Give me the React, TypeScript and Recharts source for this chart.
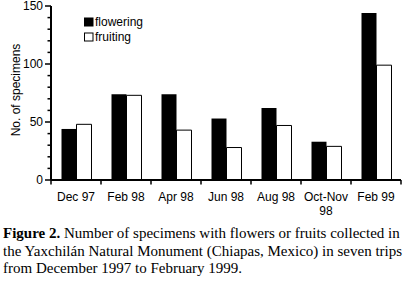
import React from "react";
import { BarChart, Bar, XAxis, YAxis, Legend } from "recharts";

const categories = ["Dec 97", "Feb 98", "Apr 98", "Jun 98", "Aug 98", "Oct-Nov\n98", "Feb 99"];
const flowering = [44, 74, 74, 53, 62, 33, 144];
const fruiting = [48, 73, 43, 28, 47, 29, 99];
const yTicks = [0, 10, 20, 30, 40, 50, 60, 70, 80, 90, 100, 110, 120, 130, 140, 150];
const yLabelTicks = [0, 50, 100, 150];

const seriesNames = ["flowering", "fruiting"];

const data = categories.map((c, i) => ({ cat: c, flowering: flowering[i], fruiting: fruiting[i] }));

const SANS = "Arial, 'Liberation Sans', sans-serif";

const YTick = (props: any) => {
  const { x, y, payload } = props;
  const major = yLabelTicks.includes(payload.value);
  return (
    <g>
      <line x1={x - (major ? 6 : 3.5)} x2={x} y1={y} y2={y} stroke="#000" strokeWidth={1.5} />
      {major && (
        <text x={x - 8} y={y} dy={4.2} textAnchor="end" fontFamily={SANS} fontSize={12} fill="#000">
          {payload.value}
        </text>
      )}
    </g>
  );
};

const XTick = (props: any) => {
  const { x, y, payload, index, visibleTicksCount } = props;
  const off = payload.offset ?? 25;
  const lines = String(payload.value).split("\n");
  const isLast = index === (visibleTicksCount ?? categories.length) - 1;
  return (
    <g>
      <line x1={x - off} x2={x - off} y1={y} y2={y + 4.5} stroke="#000" strokeWidth={1.5} />
      {isLast && <line x1={x + off} x2={x + off} y1={y} y2={y + 4.5} stroke="#000" strokeWidth={1.5} />}
      <text x={x} y={y + 21} textAnchor="middle" fontFamily={SANS} fontSize={12} fill="#000">
        {lines.map((l, i) => (
          <tspan key={i} x={x} dy={i === 0 ? 0 : 14}>
            {l}
          </tspan>
        ))}
      </text>
    </g>
  );
};

const LegendContent = () => (
  <div style={{ fontFamily: SANS, fontSize: 12, lineHeight: "14.6px", color: "#000" }}>
    {seriesNames.map((n, i) => (
      <div key={n} style={{ display: "flex", alignItems: "center", whiteSpace: "nowrap" }}>
        <svg width={10} height={10} style={{ marginRight: 1 }}>
          <rect x={0.5} y={1} width={8.5} height={8} fill={i === 0 ? "#000" : "#fff"} stroke="#000" strokeWidth={1} />
        </svg>
        <span>{n}</span>
      </div>
    ))}
  </div>
);

export default function App() {
  return (
    <div style={{ position: "absolute", left: 0, top: 0, width: 406, height: 283, background: "#fff", overflow: "hidden" }}>
      <BarChart
        width={406}
        height={225}
        data={data}
        margin={{ top: 6, right: 5, bottom: 0, left: 0 }}
        barCategoryGap="21%"
        barGap={0}
      >
        <XAxis
          dataKey="cat"
          interval={0}
          tickLine={false}
          tickSize={0}
          tickMargin={0}
          height={45}
          axisLine={{ stroke: "#000", strokeWidth: 2 }}
          tick={<XTick />}
        />
        <YAxis
          type="number"
          domain={[0, 150]}
          ticks={yTicks}
          interval={0}
          width={51}
          tickLine={false}
          tickSize={0}
          tickMargin={0}
          axisLine={{ stroke: "#000", strokeWidth: 2 }}
          tick={<YTick />}
        />
        <Legend
          layout="vertical"
          align="center"
          verticalAlign="middle"
          wrapperStyle={{ left: 84, top: 15, width: "auto", height: "auto" }}
          content={<LegendContent />}
        />
        <Bar dataKey="flowering" fill="#000" isAnimationActive={false} />
        <Bar dataKey="fruiting" fill="#fff" stroke="#000" strokeWidth={1} isAnimationActive={false} />
      </BarChart>
      <svg style={{ position: "absolute", left: 0, top: 0 }} width={30} height={180}>
        <text
          x={0}
          y={0}
          transform="translate(19.5,90) rotate(-90)"
          textAnchor="middle"
          fontFamily={SANS}
          fontSize={12}
          fill="#000"
        >
          No. of specimens
        </text>
      </svg>
      <div
        style={{
          position: "absolute",
          left: 3,
          top: 225,
          fontFamily: "'Liberation Serif', 'Times New Roman', serif",
          fontSize: 15,
          lineHeight: "17.5px",
          color: "#000",
          whiteSpace: "nowrap",
        }}
      >
        <b>Figure 2.</b> Number of specimens with flowers or fruits collected in
        <br />
        the Yaxchilán Natural Monument (Chiapas, Mexico) in seven trips
        <br />
        from December 1997 to February 1999.
      </div>
    </div>
  );
}
